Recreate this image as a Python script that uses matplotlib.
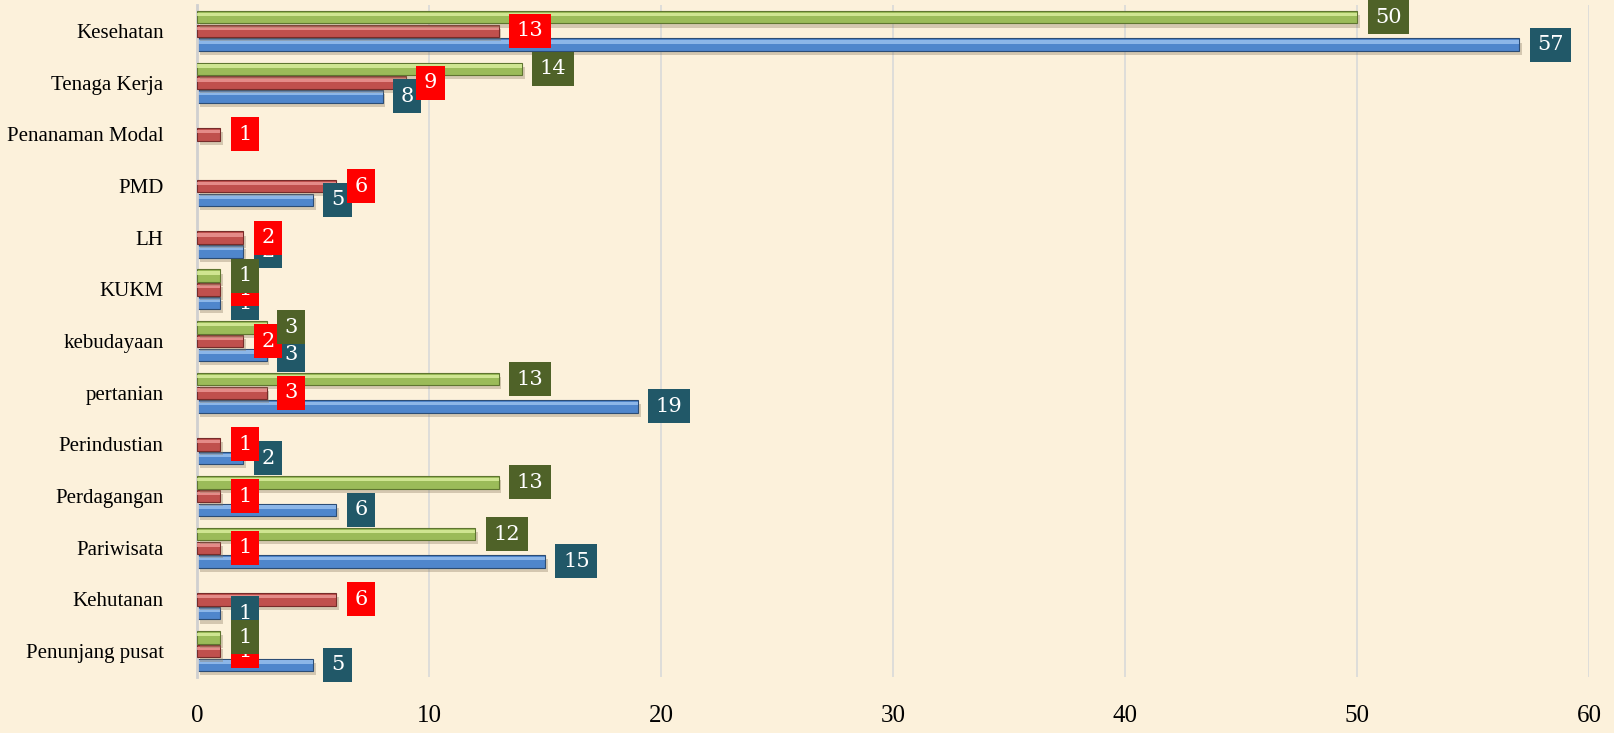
import matplotlib
matplotlib.use("Agg")
import matplotlib.pyplot as plt
import matplotlib.patheffects as pe
import numpy as np

categories = ["Kesehatan", "Tenaga Kerja", "Penanaman Modal", "PMD", "LH", "KUKM",
              "kebudayaan", "pertanian", "Perindustian", "Perdagangan", "Pariwisata",
              "Kehutanan", "Penunjang pusat"]
blue_vals  = [57, 8, 0, 5, 2, 1, 3, 19, 2, 6, 15, 1, 5]
red_vals   = [13, 9, 1, 6, 2, 1, 2, 3, 1, 1, 1, 6, 1]
green_vals = [50, 14, 0, 0, 0, 1, 3, 13, 0, 13, 12, 0, 1]
xticks = [0, 10, 20, 30, 40, 50, 60]

FONT = "Liberation Serif"
BG = "#FCF1DB"
fig = plt.figure(figsize=(16.14, 7.33), dpi=100, facecolor=BG)
ax = fig.add_axes([0.122, 0.0764, 0.8625, 0.9166], facecolor=BG)

y = np.arange(len(categories))
h = 0.24
step = 0.265
series = [
    (blue_vals, step, "#4F86CC", "#9CC3F0", "#2C4D75", "#215868", 2),
    (red_vals, 0.0, "#C0504D", "#EE9A98", "#772C2A", "#FF0000", 3),
    (green_vals, -step, "#9BBB59", "#DDF0A0", "#5F7530", "#4F6228", 4),
]
shadow = [pe.SimplePatchShadow(offset=(2, -3), shadow_rgbFace="#8a7a60", alpha=0.35), pe.Normal()]
for vals, off, col, light, dark, lab, z in series:
    v = np.array(vals, dtype=float)
    keep = v > 0
    yy = (y + off)[keep]
    bars = ax.barh(yy, v[keep], height=h, color=col, edgecolor=dark, linewidth=0.8, zorder=z)
    for b in bars:
        b.set_path_effects(shadow)
    ax.barh(yy - h * 0.22, v[keep], height=h * 0.28, color=light, linewidth=0, zorder=z, alpha=0.8)
    for yc, vv in zip(yy, v[keep]):
        ax.annotate(str(int(vv)), (vv, yc), xytext=(13, 0), textcoords="offset points",
                    ha="left", va="center", color="white", fontsize=15,
                    family="DejaVu Serif", zorder=10 + z,
                    bbox=dict(boxstyle="square,pad=0.36", fc=lab, ec="none"))

ax.set_xlim(0, 60)
ax.set_ylim(len(categories) - 0.5, -0.5)
ax.set_xticks(xticks)
ax.set_xticklabels([str(t) for t in xticks], family=FONT, fontsize=18)
ax.set_yticks(y)
ax.set_yticklabels(categories, family=FONT, fontsize=15)
ax.tick_params(length=0, pad=20, axis="x")
ax.tick_params(length=0, pad=24, axis="y")
ax.grid(axis="x", color="#D9D9D9", linewidth=1.2, zorder=0)
ax.set_axisbelow(True)
for s in ["top", "right", "bottom"]:
    ax.spines[s].set_visible(False)
ax.spines["left"].set_color("#D0D0D0")
ax.spines["left"].set_linewidth(2)

fig.savefig("out.png", dpi=100, facecolor=BG)
